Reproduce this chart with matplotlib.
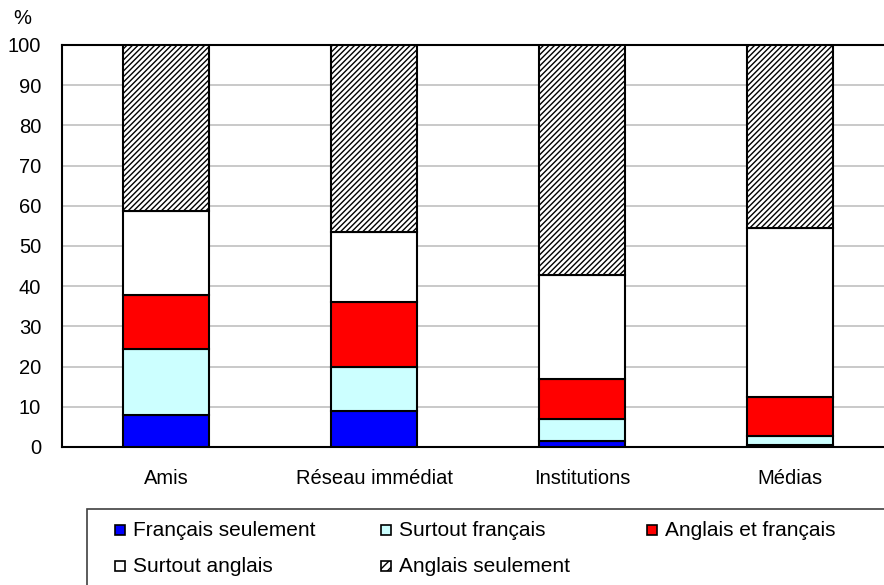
import numpy as np
import matplotlib
matplotlib.use("Agg")
import matplotlib.pyplot as plt
from matplotlib.patches import Rectangle

plt.rcParams["font.family"] = ["Liberation Sans", "DejaVu Sans"]
plt.rcParams["hatch.color"] = "#333333"
plt.rcParams["hatch.linewidth"] = 1.0

categories = ["Amis", "Réseau immédiat", "Institutions", "Médias"]
series_labels = [
    "Français seulement",
    "Surtout français",
    "Anglais et français",
    "Surtout anglais",
    "Anglais seulement",
]
# parts of each bar, in %
francais_seul = [8.0, 9.0, 1.5, 0.4]
surtout_francais = [16.3, 11.0, 5.4, 2.4]
anglais_francais = [13.5, 16.0, 10.0, 9.6]
surtout_anglais = [20.8, 17.6, 25.9, 42.2]
anglais_seul = [41.4, 46.4, 57.2, 45.4]

series = [francais_seul, surtout_francais, anglais_francais, surtout_anglais, anglais_seul]
colors = ["#0000ff", "#ccffff", "#ff0000", "#ffffff", "#ffffff"]
hatches = [None, None, None, None, "//////"]

W, H = 884, 585
fig = plt.figure(figsize=(W / 100, H / 100), dpi=100)
ax = fig.add_axes([62 / W, 1 - 447 / H, 832 / W, 402 / H])

x = np.arange(len(categories))
bottom = np.zeros(len(categories))
for vals, col, hat in zip(series, colors, hatches):
    ax.bar(x, vals, width=0.41, bottom=bottom, color=col, edgecolor="black",
           linewidth=1.5, hatch=hat, zorder=3)
    bottom += np.array(vals)

ax.set_xlim(-0.5, 3.5)
ax.set_ylim(0, 100)
ax.set_yticks(np.arange(0, 101, 10))
ax.set_xticks(x)
ax.set_xticklabels(categories)
ax.tick_params(axis="both", length=0, labelsize=14.5)
ax.tick_params(axis="y", pad=15)
ax.tick_params(axis="x", pad=16)
ax.yaxis.grid(True, color="#c0c0c0", linewidth=1.2, zorder=0)
for s in ["left", "top", "bottom"]:
    ax.spines[s].set_linewidth(1.5)
ax.spines["right"].set_visible(False)

fig.text(22 / W, 1 - 18 / H, "%", fontsize=14.5, ha="center", va="center")

# legend box (only left and top edges inside the picture)
fig.patches.append(Rectangle((87 / W, -0.1), 1.0, 1 - 509 / H + 0.1,
                             transform=fig.transFigure, facecolor="white",
                             edgecolor="#404040", linewidth=1.2))

col_x = [120, 386, 652]
row_y = [530, 566]
for i, (lab, col, hat) in enumerate(zip(series_labels, colors, hatches)):
    cx = col_x[i % 3]
    cy = row_y[i // 3]
    sq = 10
    fig.patches.append(Rectangle(((cx - sq / 2) / W, 1 - (cy + sq / 2) / H), sq / W, sq / H,
                                 transform=fig.transFigure, facecolor=col,
                                 edgecolor="black", linewidth=1.2,
                                 hatch="////" if hat else None))
    fig.text((cx + 13) / W, 1 - cy / H, lab, fontsize=15, ha="left", va="center")

fig.savefig("out.png", dpi=100)
